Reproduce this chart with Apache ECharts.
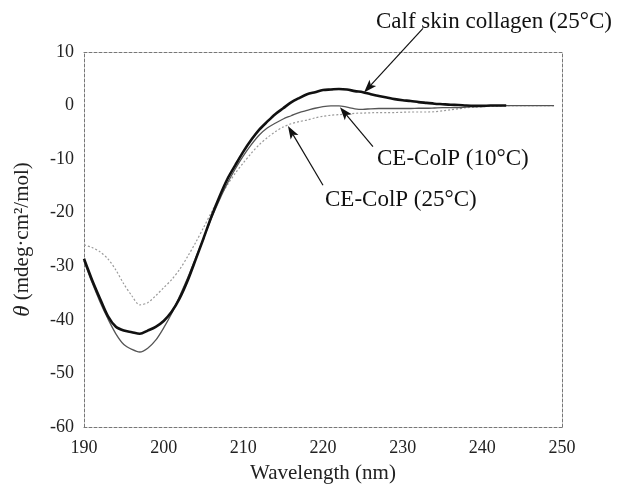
<!DOCTYPE html>
<html>
<head>
<meta charset="utf-8">
<script src="https://cdn.jsdelivr.net/npm/echarts@6/dist/echarts.min.js"></script>
<style>
html,body{margin:0;padding:0;background:#fff;}
#c{width:625px;height:489px;}
</style>
</head>
<body>
<div id="c"></div>
<script>
// Wavelength (nm)
var wavelengths = [190,191,192,193,194,195,196,197,198,199,200,201,202,203,204,205,206,207,208,209,210,211,212,213,214,215,216,217,218,219,220,221,222,223,224,225,226,227,228,229,230,231,232,233,234,235,236,237,238,239,240,241,242,243,244,245,246,247,248,249];
// Calf skin collagen (25°C)
var calfSkin = [-28.6,-32.5,-36.0,-39.3,-41.3,-42.0,-42.3,-42.6,-42.0,-41.3,-40.2,-38.5,-36.0,-32.7,-28.8,-24.8,-20.7,-17.0,-13.7,-11.1,-8.6,-6.4,-4.5,-3.0,-1.6,-0.5,0.6,1.4,2.1,2.5,2.9,3.0,3.1,3.0,2.7,2.5,2.1,1.8,1.5,1.2,1.0,0.85,0.65,0.5,0.35,0.25,0.15,0.1,0.0,-0.05,-0.05,0,0,0,null,null,null,null,null,null];
// CE-ColP (10°C)
var ceColP10 = [-29.0,-33.0,-36.6,-39.8,-42.6,-44.6,-45.5,-46.0,-45.3,-43.8,-41.5,-38.8,-35.6,-32.2,-28.5,-24.8,-21.0,-17.6,-14.5,-11.8,-9.4,-7.3,-5.5,-4.2,-3.3,-2.5,-1.9,-1.3,-0.9,-0.5,-0.2,-0.05,-0.05,-0.3,-0.6,-0.7,-0.6,-0.55,-0.55,-0.55,-0.55,-0.55,-0.5,-0.5,-0.45,-0.4,-0.4,-0.4,-0.3,-0.2,-0.1,0,0,0,0,0,0,0,0,0];
// CE-ColP (25°C)
var ceColP25 = [-26.0,-26.5,-27.3,-28.6,-30.7,-33.3,-35.5,-37.2,-36.8,-35.5,-34.0,-32.5,-30.6,-28.2,-25.6,-22.8,-19.9,-17.2,-14.8,-12.6,-10.7,-8.9,-7.3,-6.0,-4.9,-4.0,-3.4,-3.0,-2.7,-2.3,-2.0,-1.8,-1.7,-1.6,-1.45,-1.4,-1.35,-1.3,-1.3,-1.3,-1.25,-1.2,-1.2,-1.2,-1.15,-1.0,-0.8,-0.6,-0.4,-0.3,-0.2,-0.1,-0.1,0,0,0,0,0,0,0];
// Axis ticks
var xTicks = [190,200,210,220,230,240,250];
var yTicks = [-60,-50,-40,-30,-20,-10,0,10];
// Annotations (text anchor and arrow start/tip in data coordinates)
var annotTexts = ['Calf skin collagen (25°C)','CE-ColP (10°C)','CE-ColP (25°C)'];
var annotTextPos = [[226.65,15.7],[226.78,-9.9],[220.25,-17.63]];
var arrowStarts = [[232.55,14.42],[226.27,-7.68],[220.0,-14.87]];
var arrowTips = [[225.15,2.45],[222.13,-0.32],[215.6,-3.82]];

function pairs(xs, ys){ var r=[]; for(var i=0;i<xs.length;i++){ if(ys[i]!==null) r.push([xs[i],ys[i]]); } return r; }

var FONT = 'Liberation Serif';
var chart = echarts.init(document.getElementById('c'), null, {renderer:'canvas'});
var axisDash = {show:true, onZero:false, lineStyle:{color:'#777', width:1, type:[3,2]}};
chart.setOption({
  animation:false,
  backgroundColor:'#fff',
  grid:{left:84, right:63, top:52, bottom:57, containLabel:false},
  xAxis:[{
    type:'value', min:xTicks[0], max:xTicks[xTicks.length-1], interval:10,
    axisLine:axisDash, axisTick:{show:false}, splitLine:{show:false},
    axisLabel:{fontFamily:FONT, fontSize:18, color:'#222', margin:12},
    name:'Wavelength (nm)', nameLocation:'middle', nameGap:36,
    nameTextStyle:{fontFamily:FONT, fontSize:21, color:'#222'}
  },{
    type:'value', position:'top', min:xTicks[0], max:xTicks[xTicks.length-1], interval:10,
    axisLine:axisDash, axisTick:{show:false}, splitLine:{show:false}, axisLabel:{show:false}
  }],
  yAxis:[{
    type:'value', min:yTicks[0], max:yTicks[yTicks.length-1], interval:10,
    axisLine:axisDash, axisTick:{show:false}, splitLine:{show:false},
    axisLabel:{fontFamily:FONT, fontSize:18, color:'#222', margin:10},
    name:'{i|θ} (mdeg·cm²/mol)', nameLocation:'middle', nameGap:50, nameRotate:90,
    nameTextStyle:{fontFamily:FONT, fontSize:21, color:'#222',
      rich:{i:{fontFamily:FONT, fontSize:23, fontStyle:'italic', color:'#222'}}}
  },{
    type:'value', position:'right', min:yTicks[0], max:yTicks[yTicks.length-1], interval:10,
    axisLine:axisDash, axisTick:{show:false}, splitLine:{show:false}, axisLabel:{show:false}
  }],
  series:[
    {name:'CE-ColP (25°C)', type:'line', data:pairs(wavelengths, ceColP25), symbol:'none', smooth:0.3,
      lineStyle:{color:'#9a9a9a', width:1.2, type:[2,2]}, z:2},
    {name:'CE-ColP (10°C)', type:'line', data:pairs(wavelengths, ceColP10), symbol:'none', smooth:0.3,
      lineStyle:{color:'#555', width:1.3}, z:3},
    {name:'Calf skin collagen (25°C)', type:'line', data:pairs(wavelengths, calfSkin), symbol:'none', smooth:0.3,
      lineStyle:{color:'#111', width:2.6}, z:4}
  ]
});

var g = [];
for (var k=0;k<annotTexts.length;k++){
  var tp = chart.convertToPixel({gridIndex:0}, annotTextPos[k]);
  g.push({type:'text', x:tp[0], y:tp[1], style:{text:annotTexts[k], font:'23px "Liberation Serif"', fill:'#111', textAlign:'left', textVerticalAlign:'middle'}, z:10});
  var s = chart.convertToPixel({gridIndex:0}, arrowStarts[k]);
  var t = chart.convertToPixel({gridIndex:0}, arrowTips[k]);
  var dx=t[0]-s[0], dy=t[1]-s[1], len=Math.sqrt(dx*dx+dy*dy); dx/=len; dy/=len;
  var L=13, W=4.5;
  var bx=t[0]-dx*L, by=t[1]-dy*L;
  g.push({type:'line', shape:{x1:s[0],y1:s[1],x2:bx+dx*3,y2:by+dy*3}, style:{stroke:'#111', lineWidth:1.2}, z:10});
  g.push({type:'polygon', shape:{points:[[t[0],t[1]],[bx-dy*W,by+dx*W],[bx+dx*3,by+dy*3],[bx+dy*W,by-dx*W]]}, style:{fill:'#111'}, z:10});
}
chart.setOption({graphic:g});
</script>
</body>
</html>
